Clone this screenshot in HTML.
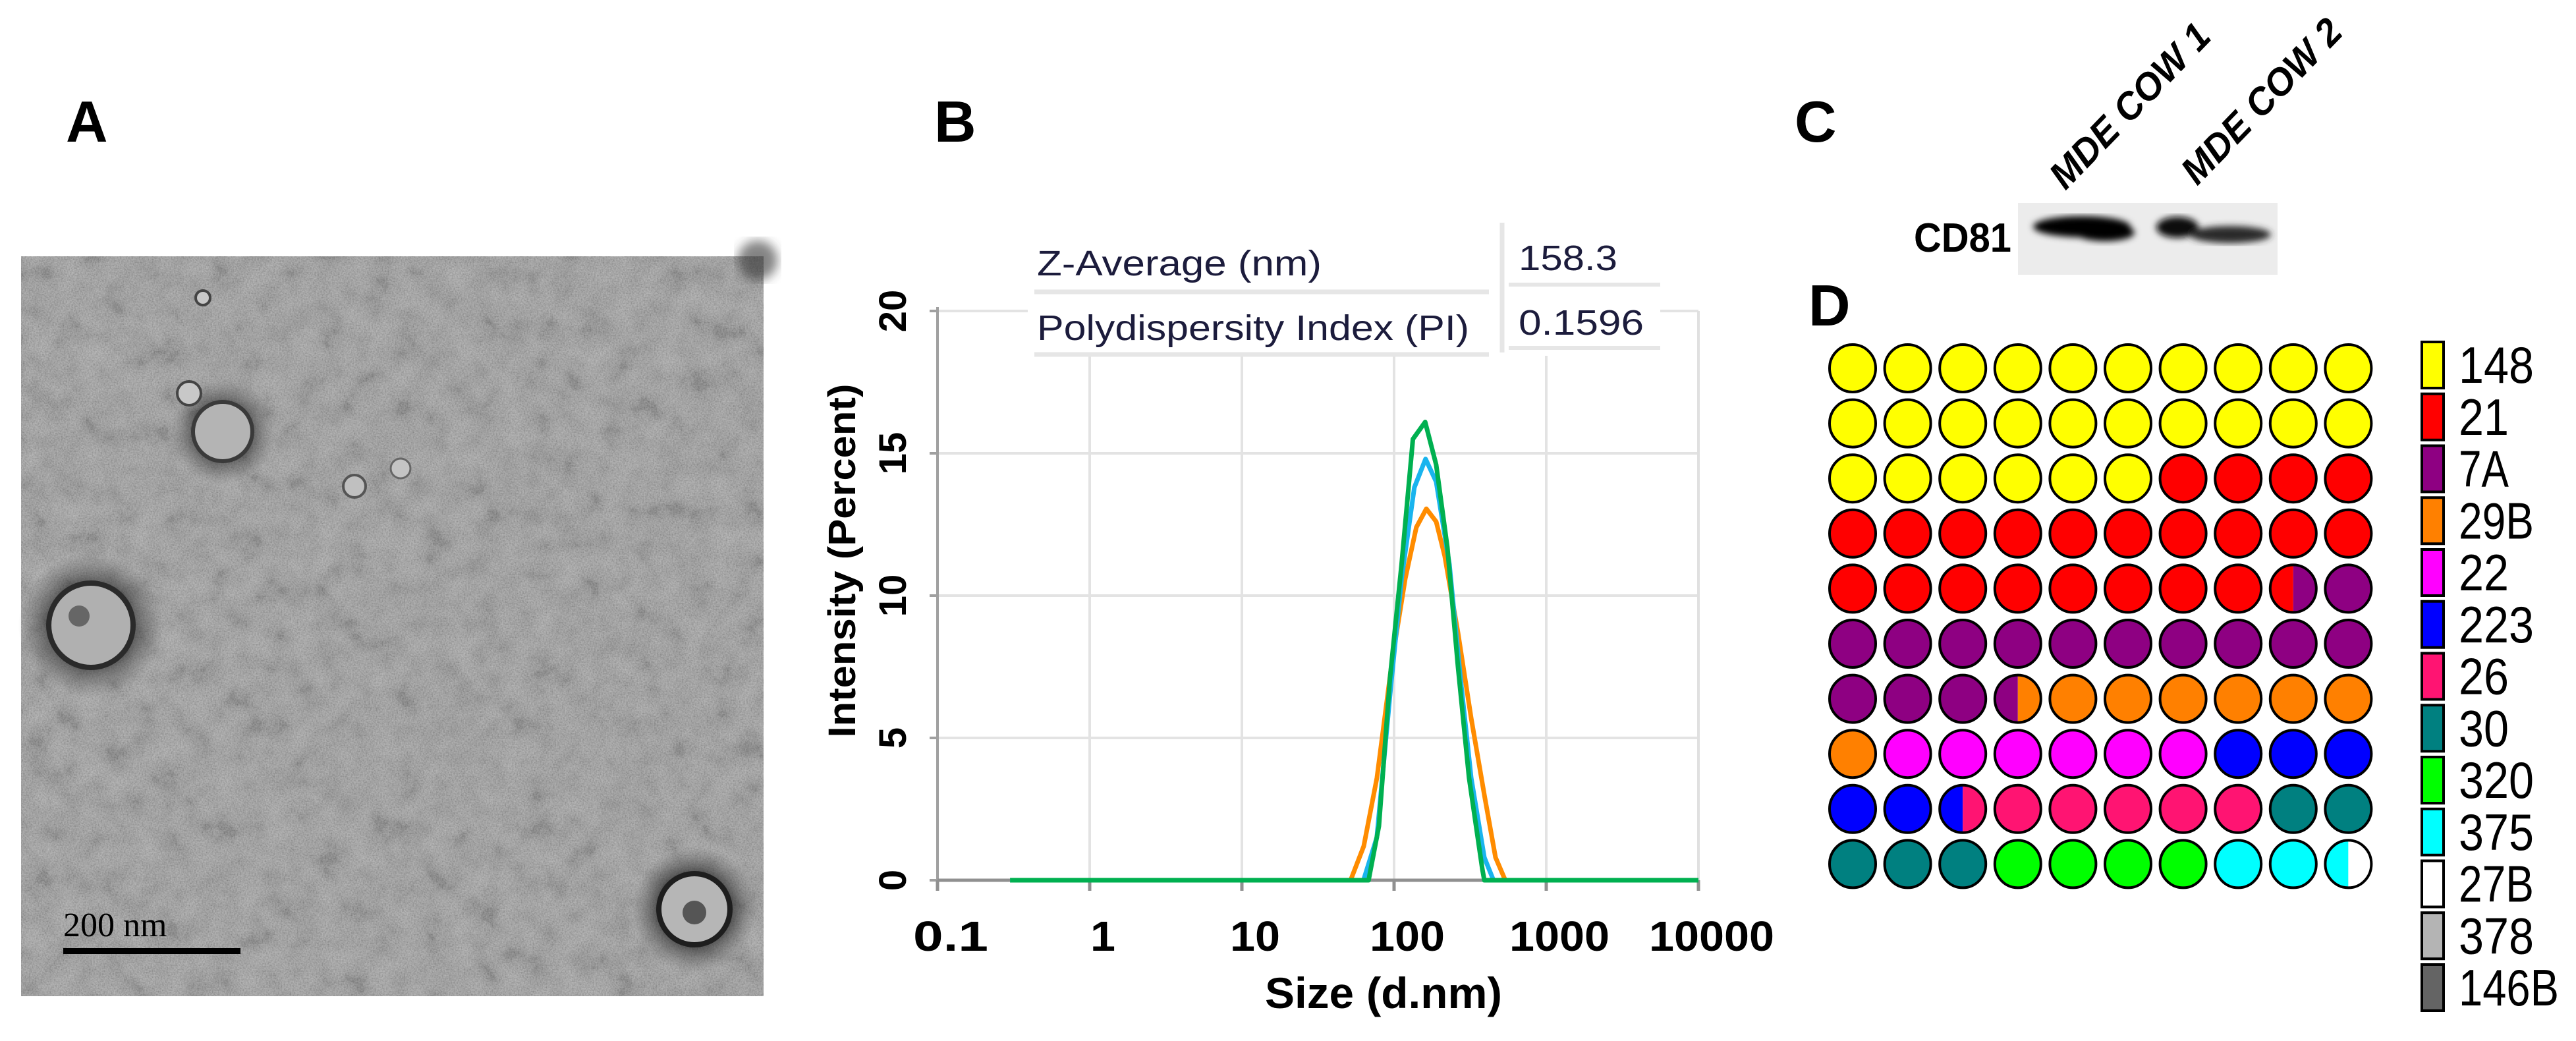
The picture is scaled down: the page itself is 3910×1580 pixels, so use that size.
<!DOCTYPE html>
<html><head><meta charset="utf-8"><style>
html,body{margin:0;padding:0;background:#fff;}
svg{display:block;}
</style></head><body>
<svg id="fig" width="3910" height="1580" viewBox="0 0 3910 1580" xmlns="http://www.w3.org/2000/svg" font-family="Liberation Sans, sans-serif">
<defs>
<filter id="noise" x="0" y="0" width="100%" height="100%">
<feTurbulence type="fractalNoise" baseFrequency="0.45" numOctaves="2" seed="3"/>
<feColorMatrix type="matrix" values="1.1 0 0 0 -0.05  1.1 0 0 0 -0.05  1.1 0 0 0 -0.05  0 0 0 0 1"/>
</filter>
<filter id="mottle" x="0" y="0" width="100%" height="100%">
<feTurbulence type="fractalNoise" baseFrequency="0.025" numOctaves="3" seed="7"/>
<feColorMatrix type="matrix" values="1.3 0 0 0 -0.3  1.3 0 0 0 -0.3  1.3 0 0 0 -0.3  0 0 0 0 1"/>
</filter>
<filter id="blur8"><feGaussianBlur stdDeviation="8"/></filter>
<filter id="blur5"><feGaussianBlur stdDeviation="5"/></filter>
<radialGradient id="halo"><stop offset="0.55" stop-color="#222" stop-opacity="0.9"/><stop offset="1" stop-color="#555" stop-opacity="0"/></radialGradient>
</defs>

<text x="100" y="215" font-size="88" font-weight="bold">A</text>
<text x="1418" y="215" font-size="88" font-weight="bold">B</text>
<text x="2724" y="215" font-size="88" font-weight="bold">C</text>
<text x="2745" y="494" font-size="88" font-weight="bold">D</text>

<g>
<rect x="32" y="389" width="1127" height="1123" fill="#969696"/>
<rect x="32" y="389" width="1127" height="1123" filter="url(#mottle)" opacity="0.18"/>
<rect x="32" y="389" width="1127" height="1123" filter="url(#noise)" opacity="0.3"/>
<circle cx="338" cy="655" r="80" fill="url(#halo)" opacity="0.6"/>
<circle cx="338" cy="655" r="45" fill="#b4b4b4" stroke="#3a3a3a" stroke-width="6"/>
<circle cx="138" cy="949" r="110" fill="url(#halo)" opacity="0.7"/>
<circle cx="138" cy="949" r="64" fill="#b0b0b0" stroke="#2a2a2a" stroke-width="8"/>
<circle cx="120" cy="935" r="16" fill="#666"/>
<circle cx="1054" cy="1380" r="95" fill="url(#halo)" opacity="0.8"/>
<circle cx="1054" cy="1380" r="54" fill="#b6b6b6" stroke="#1e1e1e" stroke-width="8"/>
<circle cx="1054" cy="1385" r="18" fill="#555"/>
<circle cx="308" cy="452" r="11" fill="#c8c8c8" stroke="#444" stroke-width="4"/>
<circle cx="287" cy="597" r="18" fill="#c8c8c8" stroke="#444" stroke-width="4"/>
<circle cx="538" cy="738" r="17" fill="#c0c0c0" stroke="#555" stroke-width="4"/>
<circle cx="608" cy="711" r="15" fill="#c4c4c4" stroke="#666" stroke-width="3"/>
<circle cx="1150" cy="395" r="30" fill="#333" opacity="0.6" filter="url(#blur8)"/>
<rect x="96" y="1439" width="269" height="9" fill="#000"/>
<text x="96" y="1421" font-family="Liberation Serif, serif" font-size="52">200 nm</text>
</g>

<g id="chartB"></g>

<g>
<text transform="translate(3135,290) rotate(-46)" font-size="58" font-weight="bold" font-style="italic" textLength="322" lengthAdjust="spacingAndGlyphs">MDE COW 1</text>
<text transform="translate(3335,283) rotate(-46)" font-size="58" font-weight="bold" font-style="italic" textLength="322" lengthAdjust="spacingAndGlyphs">MDE COW 2</text>
<text x="2905" y="382" font-size="62" font-weight="bold" textLength="148" lengthAdjust="spacingAndGlyphs">CD81</text>
<rect x="3063" y="308" width="394" height="109" fill="#ececec"/>
<g filter="url(#blur5)">
<ellipse cx="3160" cy="344" rx="74" ry="16" fill="#000"/>
<ellipse cx="3195" cy="353" rx="45" ry="13" fill="#000"/>
<ellipse cx="3305" cy="345" rx="32" ry="16" fill="#0a0a0a"/>
<ellipse cx="3385" cy="356" rx="62" ry="13" fill="#2a2a2a"/>
</g>
</g>

<g id="gridD"></g>
<g id="legendD"></g>
</svg>

<script>
const sizeTicks = [0.1, 1, 10, 100, 1000, 10000];
const sizeTickLabels = ["0.1", "1", "10", "100", "1000", "10000"];
const intensityTicks = [0, 5, 10, 15, 20];
const orangeSizes = [0.3, 51.8, 63.2, 77.2, 97, 118.5, 140, 163, 189, 215, 263, 321, 392, 464, 538, 10000];
const orangeValues = [0, 0, 1.2, 3.6, 7.7, 10.6, 12.4, 13.05, 12.6, 11.4, 8.7, 5.7, 3.0, 0.8, 0, 0];
const blueSizes = [0.3, 63, 77, 94, 112, 136, 161, 189, 231, 273, 321, 392, 450, 10000];
const blueValues = [0, 0, 1.5, 6.5, 10.6, 13.8, 14.8, 14.0, 11.1, 7.1, 3.6, 0.8, 0, 0];
const greenSizes = [0.3, 68, 79.5, 94, 112, 133, 160, 189, 224, 263, 311, 380, 392, 10000];
const greenValues = [0, 0, 1.9, 7.1, 11.1, 15.5, 16.1, 14.6, 11.7, 7.5, 3.6, 0.4, 0, 0];
const tableLabels = ["Z-Average (nm)", "Polydispersity Index (PI)"];
const tableValues = ["158.3", "0.1596"];

const strainNames = ["148","21","7A","29B","22","223","26","30","320","375","27B","378","146B"];
const strainColors = ["#FFFF00","#FF0000","#8E0082","#FF8000","#FF00FF","#0000FF","#FF1472","#008080","#00FF00","#00FFFF","#FFFFFF","#B4B4B4","#646464"];
const gridRows = [
 ["148","148","148","148","148","148","148","148","148","148"],
 ["148","148","148","148","148","148","148","148","148","148"],
 ["148","148","148","148","148","148","21","21","21","21"],
 ["21","21","21","21","21","21","21","21","21","21"],
 ["21","21","21","21","21","21","21","21","21/7A","7A"],
 ["7A","7A","7A","7A","7A","7A","7A","7A","7A","7A"],
 ["7A","7A","7A","7A/29B","29B","29B","29B","29B","29B","29B"],
 ["29B","22","22","22","22","22","22","223","223","223"],
 ["223","223","223/26","26","26","26","26","26","30","30"],
 ["30","30","30","320","320","320","320","375","375","375/27B"]
];

const NS = "http://www.w3.org/2000/svg";
function mk(tag, attrs, parent) {
  const e = document.createElementNS(NS, tag);
  for (const k in attrs) e.setAttribute(k, attrs[k]);
  parent.appendChild(e);
  return e;
}

const X0 = 1423, DEC = 231, Y0 = 1336, UNIT = 43.2;
function xs(v) { return X0 + (Math.log10(v) + 1) * DEC; }
function ys(v) { return Y0 - v * UNIT; }
const XR = xs(10000), YT = ys(20);

const cB = document.getElementById("chartB");
intensityTicks.forEach(t => {
  if (t === 0) return;
  const g = mk("line", {x1: X0, x2: XR, y1: ys(t), y2: ys(t), stroke: "#e3e3e3", "stroke-width": 4}, cB);
  
  
});
sizeTicks.forEach(t => {
  if (t === 0.1 || t === 10000) return;
  const g = mk("line", {x1: xs(t), x2: xs(t), y1: YT, y2: Y0, stroke: "#e3e3e3", "stroke-width": 4}, cB);
  
  
});
const rb = mk("line", {x1: XR, x2: XR, y1: YT, y2: Y0, stroke: "#e0e0e0", "stroke-width": 4}, cB);


const ya = mk("line", {x1: X0, x2: X0, y1: YT - 6, y2: Y0, stroke: "#a0a0a0", "stroke-width": 4}, cB);


const xa = mk("line", {x1: X0, x2: XR, y1: Y0, y2: Y0, stroke: "#909090", "stroke-width": 5}, cB);



intensityTicks.forEach(t => {
  const tk = mk("line", {x1: X0 - 12, x2: X0, y1: ys(t), y2: ys(t), stroke: "#a0a0a0", "stroke-width": 4}, cB);
  
  
  const lb = mk("text", {transform: `translate(1375,${ys(t)}) rotate(-90)`, "text-anchor": "middle", "font-size": 58, "font-weight": "bold"}, cB);
  lb.textContent = String(t);
  
  
});
sizeTicks.forEach((t, i) => {
  const tk = mk("line", {x1: xs(t), x2: xs(t), y1: Y0, y2: Y0 + 16, stroke: "#909090", "stroke-width": 5}, cB);
  
  
  const s = sizeTickLabels[i];
  const lb = mk("text", {x: xs(t) + 20, y: 1443, "text-anchor": "middle", "font-size": 64, "font-weight": "bold", textLength: s.length * 38, lengthAdjust: "spacingAndGlyphs"}, cB);
  lb.textContent = s;
  
  
});
const yt = mk("text", {transform: "translate(1298,851) rotate(-90)", "text-anchor": "middle", "font-size": 58, "font-weight": "bold", textLength: 537, lengthAdjust: "spacingAndGlyphs"}, cB);
yt.textContent = "Intensity  (Percent)";


const xt = mk("text", {x: 2100, y: 1530, "text-anchor": "middle", "font-size": 66, "font-weight": "bold", textLength: 360, lengthAdjust: "spacingAndGlyphs"}, cB);
xt.textContent = "Size (d.nm)";



const tb = mk("g", {}, cB);


mk("rect", {x: 1560, y: 340, width: 960, height: 200, fill: "#fff"}, tb);
mk("line", {x1: 1570, x2: 2260, y1: 443, y2: 443, stroke: "#e6e6e6", "stroke-width": 7}, tb);
mk("line", {x1: 1570, x2: 2260, y1: 538, y2: 538, stroke: "#e6e6e6", "stroke-width": 7}, tb);
mk("line", {x1: 2290, x2: 2520, y1: 432, y2: 432, stroke: "#e6e6e6", "stroke-width": 6}, tb);
mk("line", {x1: 2290, x2: 2520, y1: 528, y2: 528, stroke: "#e6e6e6", "stroke-width": 6}, tb);
mk("line", {x1: 2280, x2: 2280, y1: 338, y2: 535, stroke: "#e6e6e6", "stroke-width": 7}, tb);
tableLabels.forEach((s, i) => {
  const t = mk("text", {x: 1574, y: 418 + i * 98, "font-size": 54, fill: "#1c1c3c", textLength: i === 0 ? 432 : 656, lengthAdjust: "spacingAndGlyphs"}, tb);
  t.textContent = s;
  
  
  const v = mk("text", {x: 2305, y: 410 + i * 98, "font-size": 54, fill: "#1c1c3c", textLength: i === 0 ? 150 : 190, lengthAdjust: "spacingAndGlyphs"}, tb);
  v.textContent = tableValues[i];
  
  
});

function series(sz, vals, color, name) {
  const d = sz.map((s, i) => (i ? "L" : "M") + xs(s).toFixed(1) + "," + ys(vals[i]).toFixed(1)).join(" ");
  const p = mk("path", {d: d, fill: "none", stroke: color, "stroke-width": 7, "stroke-linejoin": "round"}, cB);
  
  
}
series(orangeSizes, orangeValues, "#FF8C00", "series-orange");
series(blueSizes, blueValues, "#19B4EE", "series-blue");
series(greenSizes, greenValues, "#00B050", "series-green");

const gD = document.getElementById("gridD");
const colorOf = c => strainColors[strainNames.indexOf(c)];
const GX = 2812, GY = 559, SP = 83.6, RX = 35, RY = 36;
gridRows.forEach((row, r) => {
  row.forEach((cell, c) => {
    const cx = GX + c * SP, cy = GY + r * SP;
    const parts = cell.split("/");
    if (parts.length === 1) {
      const e = mk("ellipse", {cx: cx, cy: cy, rx: RX, ry: RY, fill: colorOf(parts[0]), stroke: "#000", "stroke-width": 4}, gD);
      
      
    } else {
      const gg = mk("g", {}, gD);
      
      
      mk("path", {d: `M${cx},${cy - RY} A${RX},${RY} 0 0 0 ${cx},${cy + RY} Z`, fill: colorOf(parts[0])}, gg);
      mk("path", {d: `M${cx},${cy - RY} A${RX},${RY} 0 0 1 ${cx},${cy + RY} Z`, fill: colorOf(parts[1])}, gg);
      mk("ellipse", {cx: cx, cy: cy, rx: RX, ry: RY, fill: "none", stroke: "#000", "stroke-width": 4}, gg);
    }
  });
});

const lD = document.getElementById("legendD");
strainNames.forEach((n, i) => {
  const y = 519 + i * 78.75;
  const r = mk("rect", {x: 3676, y: y, width: 33, height: 70, fill: strainColors[i], stroke: "#000", "stroke-width": 4}, lD);
  
  
  const t = mk("text", {x: 3732, y: y + 62, "font-size": 78, textLength: n.length * 38, lengthAdjust: "spacingAndGlyphs"}, lD);
  t.textContent = n;
  
  
});
</script>
</body></html>
